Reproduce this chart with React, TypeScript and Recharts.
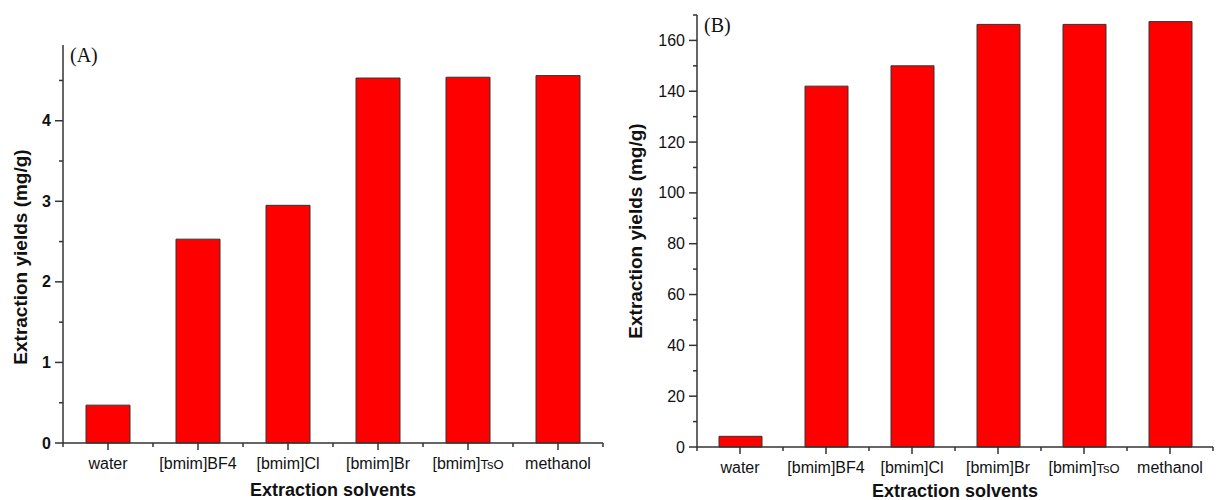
import React from 'react';
import { BarChart, Bar, XAxis, YAxis, Label } from 'recharts';

const categories = ['water', '[bmim]BF4', '[bmim]Cl', '[bmim]Br', '[bmim]TsO', 'methanol'];
const yieldsA = [0.47, 2.53, 2.95, 4.53, 4.54, 4.56];
const yieldsB = [4.2, 142, 150, 166.3, 166.3, 167.4];
const ticksA = [0, 0.5, 1, 1.5, 2, 2.5, 3, 3.5, 4, 4.5];
const majorTicksA = [0, 1, 2, 3, 4];
const ticksB = [0, 10, 20, 30, 40, 50, 60, 70, 80, 90, 100, 110, 120, 130, 140, 150, 160, 170];
const majorTicksB = [0, 20, 40, 60, 80, 100, 120, 140, 160];

const dataA = categories.map((c, i) => ({ name: c, value: yieldsA[i] }));
const dataB = categories.map((c, i) => ({ name: c, value: yieldsB[i] }));

const AXIS = '#333';
const TEXT = '#111';
const SANS = '"Liberation Sans", Arial, sans-serif';
const SERIF = '"Liberation Serif", "Times New Roman", serif';

const YTick = (props: any) => {
  const { x, y, payload, majors, bold } = props;
  const major = majors.includes(payload.value);
  return (
    <g>
      <line x1={x - (major ? 8 : 4)} x2={x} y1={y} y2={y} stroke={AXIS} strokeWidth={1.5} />
      {major && (
        <text x={x - 12} y={y + 5.5} textAnchor="end" fontFamily={SANS}
          fontSize={16} fontWeight={bold ? 'bold' : 'normal'} fill={TEXT}>
          {payload.value}
        </text>
      )}
    </g>
  );
};

const XTick = (props: any) => {
  const { x, y, payload, index, band } = props;
  const label: string = payload.value;
  const hasTsO = label.endsWith('TsO');
  return (
    <g>
      <line x1={x} x2={x} y1={y} y2={y + 7} stroke={AXIS} strokeWidth={1.5} />
      <line x1={x + band / 2} x2={x + band / 2} y1={y} y2={y + 4} stroke={AXIS} strokeWidth={1.5} />
      {index === 0 && (
        <line x1={x - band / 2} x2={x - band / 2} y1={y} y2={y + 4} stroke={AXIS} strokeWidth={1.5} />
      )}
      <text x={x} y={y + 26} textAnchor="middle" fontFamily={SANS} fontSize={16} fill={TEXT}>
        {hasTsO ? (
          <>
            <tspan>{label.slice(0, -3)}</tspan>
            <tspan fontSize={13}>{label.slice(-3)}</tspan>
          </>
        ) : label}
      </text>
    </g>
  );
};

type PanelProps = {
  data: { name: string; value: number }[];
  width: number;
  yAxisWidth: number;
  margin: { top: number; right: number; bottom: number; left: number };
  xAxisHeight: number;
  domainMax: number;
  ticks: number[];
  majors: number[];
  boldY: boolean;
  panel: string;
  yLabelX: number;
  yLabelDy: number;
  xLabelBaseline: number;
  barSize: number;
  panelDy: number;
};

const Panel = (p: PanelProps) => {
  const plotW = p.width - p.margin.left - p.margin.right - p.yAxisWidth;
  const band = plotW / categories.length;
  return (
    <BarChart width={p.width} height={500} data={p.data} margin={p.margin} barSize={p.barSize}>
      <XAxis
        dataKey="name"
        type="category"
        interval={0}
        height={p.xAxisHeight}
        tickSize={0}
        tickMargin={0}
        tickLine={false}
        axisLine={{ stroke: AXIS, strokeWidth: 1.5 }}
        tick={(t: any) => <XTick {...t} band={band} />}
      >
        <Label
          content={(lp: any) => {
            const vb = lp.viewBox || {};
            const cx = vb.x + vb.width / 2;
            return (
              <text x={cx} y={p.xLabelBaseline} textAnchor="middle" fontFamily={SANS} fontSize={18}
                fontWeight="bold" fill={TEXT}>
                Extraction solvents
              </text>
            );
          }}
        />
      </XAxis>
      <YAxis
        type="number"
        domain={[0, p.domainMax]}
        ticks={p.ticks}
        interval={0}
        width={p.yAxisWidth}
        tickSize={0}
        tickMargin={0}
        tickLine={false}
        axisLine={{ stroke: AXIS, strokeWidth: 1.5 }}
        tick={(t: any) => <YTick {...t} majors={p.majors} bold={p.boldY} />}
      >
        <Label
          content={(lp: any) => {
            const vb = lp.viewBox || {};
            const cx = vb.x + p.yLabelX;
            const cy = vb.y + vb.height / 2 + p.yLabelDy;
            const ax = vb.x + vb.width;
            return (
              <g>
                <text x={cx} y={cy} transform={`rotate(-90 ${cx} ${cy})`} textAnchor="middle"
                  dominantBaseline="central" fontFamily={SANS} fontSize={19} fontWeight="bold" fill={TEXT}>
                  Extraction yields (mg/g)
                </text>
                <text x={ax + 7} y={vb.y + p.panelDy} fontFamily={SERIF} fontSize={20} fill={TEXT}>
                  {p.panel}
                </text>
              </g>
            );
          }}
        />
      </YAxis>
      <Bar dataKey="value" fill="#ff0000" stroke="#333" strokeWidth={1} isAnimationActive={false} />
    </BarChart>
  );
};

export default function App() {
  return (
    <div style={{ position: 'absolute', left: 0, top: 0, width: 1218, height: 500, background: '#fff' }}>
      <div style={{ position: 'absolute', left: 0, top: 0 }}>
        <Panel
          data={dataA}
          width={610}
          yAxisWidth={63}
          margin={{ top: 45, right: 7, bottom: 0, left: 0 }}
          xAxisHeight={57}
          domainMax={4.94}
          ticks={ticksA}
          majors={majorTicksA}
          boldY={true}
          panel="(A)"
          yLabelX={20}
          yLabelDy={13}
          xLabelBaseline={496}
          barSize={44}
          panelDy={17}
        />
      </div>
      <div style={{ position: 'absolute', left: 610, top: 0 }}>
        <Panel
          data={dataB}
          width={608}
          yAxisWidth={87}
          margin={{ top: 15, right: 5, bottom: 0, left: 0 }}
          xAxisHeight={53}
          domainMax={170}
          ticks={ticksB}
          majors={majorTicksB}
          boldY={false}
          panel="(B)"
          yLabelX={25}
          yLabelDy={0}
          xLabelBaseline={497}
          barSize={43}
          panelDy={17}
        />
      </div>
    </div>
  );
}
